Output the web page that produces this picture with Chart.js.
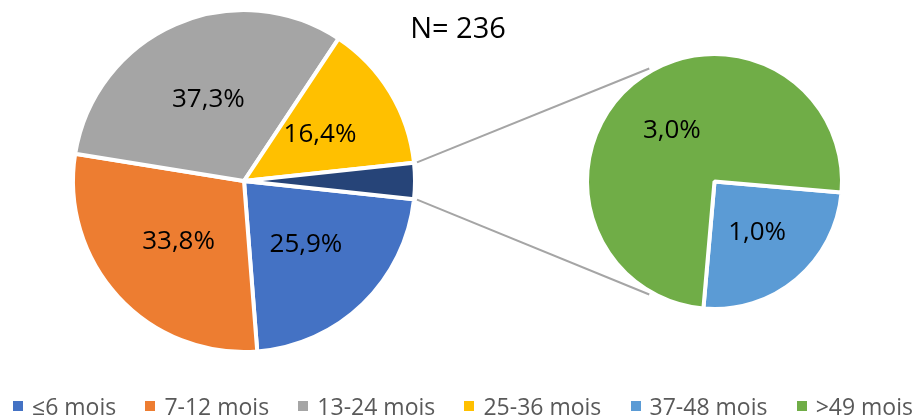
<!DOCTYPE html>
<html>
<head>
<meta charset="utf-8">
<script src="https://cdn.jsdelivr.net/npm/chart.js@4.4.1/dist/chart.umd.min.js"></script>
<style>
  body { margin: 0; background: #fff; }
  #wrap { position: relative; width: 916px; height: 417px; overflow: hidden; font-family: "Open Sans", sans-serif; }
  #wrap canvas { position: absolute; left: 0; top: 0; }
  #title { position: absolute; left: 0; top: 10px; width: 916px; text-align: center; font-size: 29px; line-height: 34px; color: #000; }
  #legend { position: absolute; left: 0; top: 392px; width: 916px; box-sizing: border-box; padding: 0 3px 0 13px;
            display: flex; justify-content: space-between; align-items: center; font-size: 23px; line-height: 28px; color: #595959; }
  .item { display: flex; align-items: center; white-space: nowrap; }
  .box { width: 10px; height: 10px; margin-right: 9px; }
</style>
</head>
<body>
<div id="wrap">
  <canvas id="mainPie" width="916" height="417"></canvas>
  <canvas id="subPie" width="916" height="417"></canvas>
  <div id="title">N= 236</div>
  <div id="legend"></div>
</div>
<script>
// categories and values (% of respondents)
const mainLabels = ['≤6 mois', '7-12 mois', '13-24 mois', '25-36 mois', 'Autre'];
const mainValues = [25.9, 33.8, 37.3, 16.4, 4.0];
const mainColors = ['#4472C4', '#ED7D31', '#A5A5A5', '#FFC000', '#264478'];

const subLabels = ['37-48 mois', '>49 mois'];
const subValues = [1.0, 3.0];
const subColors = ['#5B9BD5', '#70AD47'];

const titleText = 'N= 236';

function fmt(v) {
    return v.toFixed(1).replace('.', ',') + '%';
}

// labels inside the slices (no datalabels plugin available)
const sliceLabels = {
    id: 'sliceLabels',
    afterDatasetsDraw(chart, args, opts) {
        const ctx = chart.ctx;
        const meta = chart.getDatasetMeta(0);
        const values = chart.data.datasets[0].data;
        ctx.save();
        ctx.font = '26px "Open Sans"';
        ctx.fillStyle = '#000';
        ctx.textAlign = 'center';
        ctx.textBaseline = 'middle';
        meta.data.forEach((arc, i) => {
            if (opts.skip && opts.skip.includes(i)) return;
            const mid = (arc.startAngle + arc.endAngle) / 2;
            const r = arc.outerRadius * 0.52;
            ctx.fillText(fmt(values[i]), arc.x + Math.cos(mid) * r, arc.y + Math.sin(mid) * r);
        });
        ctx.restore();
    }
};

// grey lines from the "other" slice to the second pie
const connectors = {
    id: 'connectors',
    afterDraw(chart) {
        const other = mainChart.getDatasetMeta(0).data[mainValues.length - 1];
        const sub = chart.getDatasetMeta(0).data[0];
        const r1 = other.outerRadius + 3;
        const r2 = sub.outerRadius + 3;
        const ends = [
            [other.startAngle, -Math.PI * 2 / 3],
            [other.endAngle, Math.PI * 2 / 3]
        ];
        const ctx = chart.ctx;
        ctx.save();
        ctx.strokeStyle = '#A5A5A5';
        ctx.lineWidth = 2;
        ends.forEach(([a1, a2]) => {
            ctx.beginPath();
            ctx.moveTo(other.x + Math.cos(a1) * r1, other.y + Math.sin(a1) * r1);
            ctx.lineTo(sub.x + Math.cos(a2) * r2, sub.y + Math.sin(a2) * r2);
            ctx.stroke();
        });
        ctx.restore();
    }
};

const total = mainValues.reduce((a, b) => a + b, 0);
const otherHalf = mainValues[mainValues.length - 1] / total * 180;

const baseOptions = {
    responsive: false,
    animation: false,
    events: [],
    plugins: { legend: { display: false }, tooltip: { enabled: false } }
};

const mainChart = new Chart(document.getElementById('mainPie'), {
    type: 'pie',
    data: {
        labels: mainLabels,
        datasets: [{
            data: mainValues,
            backgroundColor: mainColors,
            borderColor: '#fff',
            borderWidth: 4
        }]
    },
    options: {
        ...baseOptions,
        rotation: 90 + otherHalf, // "other" slice centred on the right
        layout: { padding: { left: 71, top: 8, right: 499, bottom: 63 } },
        plugins: { ...baseOptions.plugins, sliceLabels: { skip: [mainValues.length - 1] } }
    },
    plugins: [sliceLabels]
});

const subChart = new Chart(document.getElementById('subPie'), {
    type: 'pie',
    data: {
        labels: subLabels,
        datasets: [{
            data: subValues,
            backgroundColor: subColors,
            borderColor: '#fff',
            borderWidth: 4
        }]
    },
    options: {
        ...baseOptions,
        rotation: 95,
        layout: { padding: { left: 585, top: 52, right: 72, bottom: 106 } },
        plugins: { ...baseOptions.plugins, sliceLabels: {} }
    },
    plugins: [sliceLabels, connectors]
});

// legend: main categories (without "other") followed by the sub pie
document.getElementById('title').textContent = titleText;
const legendEl = document.getElementById('legend');
const legendLabels = mainLabels.slice(0, -1).concat(subLabels);
const legendColors = mainColors.slice(0, -1).concat(subColors);
legendLabels.forEach((lbl, i) => {
    const item = document.createElement('div');
    item.className = 'item';
    const box = document.createElement('span');
    box.className = 'box';
    box.style.background = legendColors[i];
    const txt = document.createElement('span');
    txt.textContent = lbl;
    item.appendChild(box);
    item.appendChild(txt);
    legendEl.appendChild(item);
});
</script>
</body>
</html>
